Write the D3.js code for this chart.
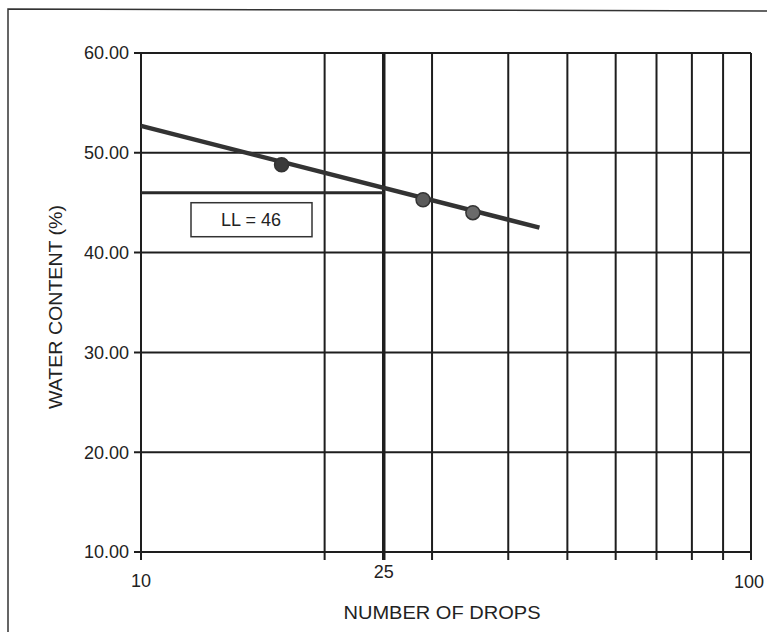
<!DOCTYPE html>
<html>
<head>
<meta charset="utf-8">
<script src="https://cdn.jsdelivr.net/npm/d3@7"></script>
<style>
  body { margin: 0; background: #fff; }
  svg text { font-family: "Liberation Sans", Arial, sans-serif; fill: #222; }
</style>
</head>
<body>
<div id="chart"></div>
<script>
// data
const drops = [17, 29, 35];
const waterContent = [48.8, 45.3, 44.0];
const pointColors = ['#3a3a3a', '#5a5a5a', '#6a6a6a'];
const trendDrops = [10, 45];
const trendWater = [52.7, 42.5];
const liquidLimit = 46;
const llDrops = 25;
const xGrid = [10, 20, 25, 30, 40, 50, 60, 70, 80, 90, 100];
const xTickLabels = ['10', '25', '100'];
const yTicks = [10, 20, 30, 40, 50, 60];

const width = 767, height = 632;
const margin = { top: 53, right: 16, bottom: 80, left: 141 };
const innerWidth = width - margin.left - margin.right;
const innerHeight = height - margin.top - margin.bottom;

const svg = d3.select('#chart').append('svg')
  .attr('width', width)
  .attr('height', height);

// outer frame
svg.append('path')
  .attr('d', `M8,${height} L8,9 L${width},11`)
  .attr('fill', 'none')
  .attr('stroke', '#333')
  .attr('stroke-width', 1.5);

const g = svg.append('g')
  .attr('transform', `translate(${margin.left},${margin.top})`);

const x = d3.scaleLog().domain([10, 100]).range([0, innerWidth]);
const y = d3.scaleLinear().domain([10, 60]).range([innerHeight, 0]);

// vertical grid
g.selectAll('.vgrid')
  .data(xGrid)
  .enter()
  .append('line')
  .attr('x1', d => x(d)).attr('x2', d => x(d))
  .attr('y1', 0).attr('y2', innerHeight + 8)
  .attr('stroke', '#1e1e1e')
  .attr('stroke-width', d => d === llDrops ? 3.5 : 2);

// horizontal grid
g.selectAll('.hgrid')
  .data(yTicks)
  .enter()
  .append('line')
  .attr('x1', -7).attr('x2', innerWidth)
  .attr('y1', d => y(d)).attr('y2', d => y(d))
  .attr('stroke', '#1e1e1e')
  .attr('stroke-width', 2);

// Y tick labels
g.selectAll('.ylab')
  .data(yTicks)
  .enter()
  .append('text')
  .attr('x', -12)
  .attr('y', d => y(d))
  .attr('dy', '0.35em')
  .attr('text-anchor', 'end')
  .style('font-size', '18px')
  .text(d => d.toFixed(2));

// X tick labels
const xLabelOffset = { '10': 35, '25': 26, '100': 36 };
g.selectAll('.xlab')
  .data(xTickLabels)
  .enter()
  .append('text')
  .attr('x', d => x(+d) - (d === '100' ? 2 : 0))
  .attr('y', d => innerHeight + xLabelOffset[d])
  .attr('text-anchor', 'middle')
  .style('font-size', '18px')
  .text(d => d);

// LL horizontal line
g.append('line')
  .attr('x1', x(10)).attr('x2', x(llDrops))
  .attr('y1', y(liquidLimit)).attr('y2', y(liquidLimit))
  .attr('stroke', '#2a2a2a')
  .attr('stroke-width', 3);

// trend line
const line = d3.line().x(d => x(d[0])).y(d => y(d[1]));
g.append('path')
  .datum(d3.zip(trendDrops, trendWater))
  .attr('d', line)
  .attr('fill', 'none')
  .attr('stroke', '#333')
  .attr('stroke-width', 4.5);

// data points
g.selectAll('.pt')
  .data(d3.zip(drops, waterContent, pointColors))
  .enter()
  .append('circle')
  .attr('cx', d => x(d[0]))
  .attr('cy', d => y(d[1]))
  .attr('r', 7)
  .attr('fill', d => d[2])
  .attr('stroke', '#333')
  .attr('stroke-width', 1.5);

// LL label box
const box = g.append('g').attr('transform', `translate(${x(10) + 50},${y(liquidLimit) + 10})`);
box.append('rect')
  .attr('width', 121).attr('height', 34)
  .attr('fill', '#fff')
  .attr('stroke', '#333')
  .attr('stroke-width', 1.5);
box.append('text')
  .attr('x', 60).attr('y', 17).attr('dy', '0.35em')
  .attr('text-anchor', 'middle')
  .style('font-size', '18px')
  .text('LL = ' + liquidLimit);

// axis titles
svg.append('text')
  .attr('x', 442)
  .attr('y', 619)
  .attr('text-anchor', 'middle')
  .style('font-size', '18px')
  .attr('textLength', 197)
  .attr('lengthAdjust', 'spacingAndGlyphs')
  .text('NUMBER OF DROPS');

svg.append('text')
  .attr('transform', `translate(62,307) rotate(-90)`)
  .attr('text-anchor', 'middle')
  .style('font-size', '18px')
  .attr('textLength', 204)
  .attr('lengthAdjust', 'spacingAndGlyphs')
  .text('WATER CONTENT (%)');
</script>
</body>
</html>
